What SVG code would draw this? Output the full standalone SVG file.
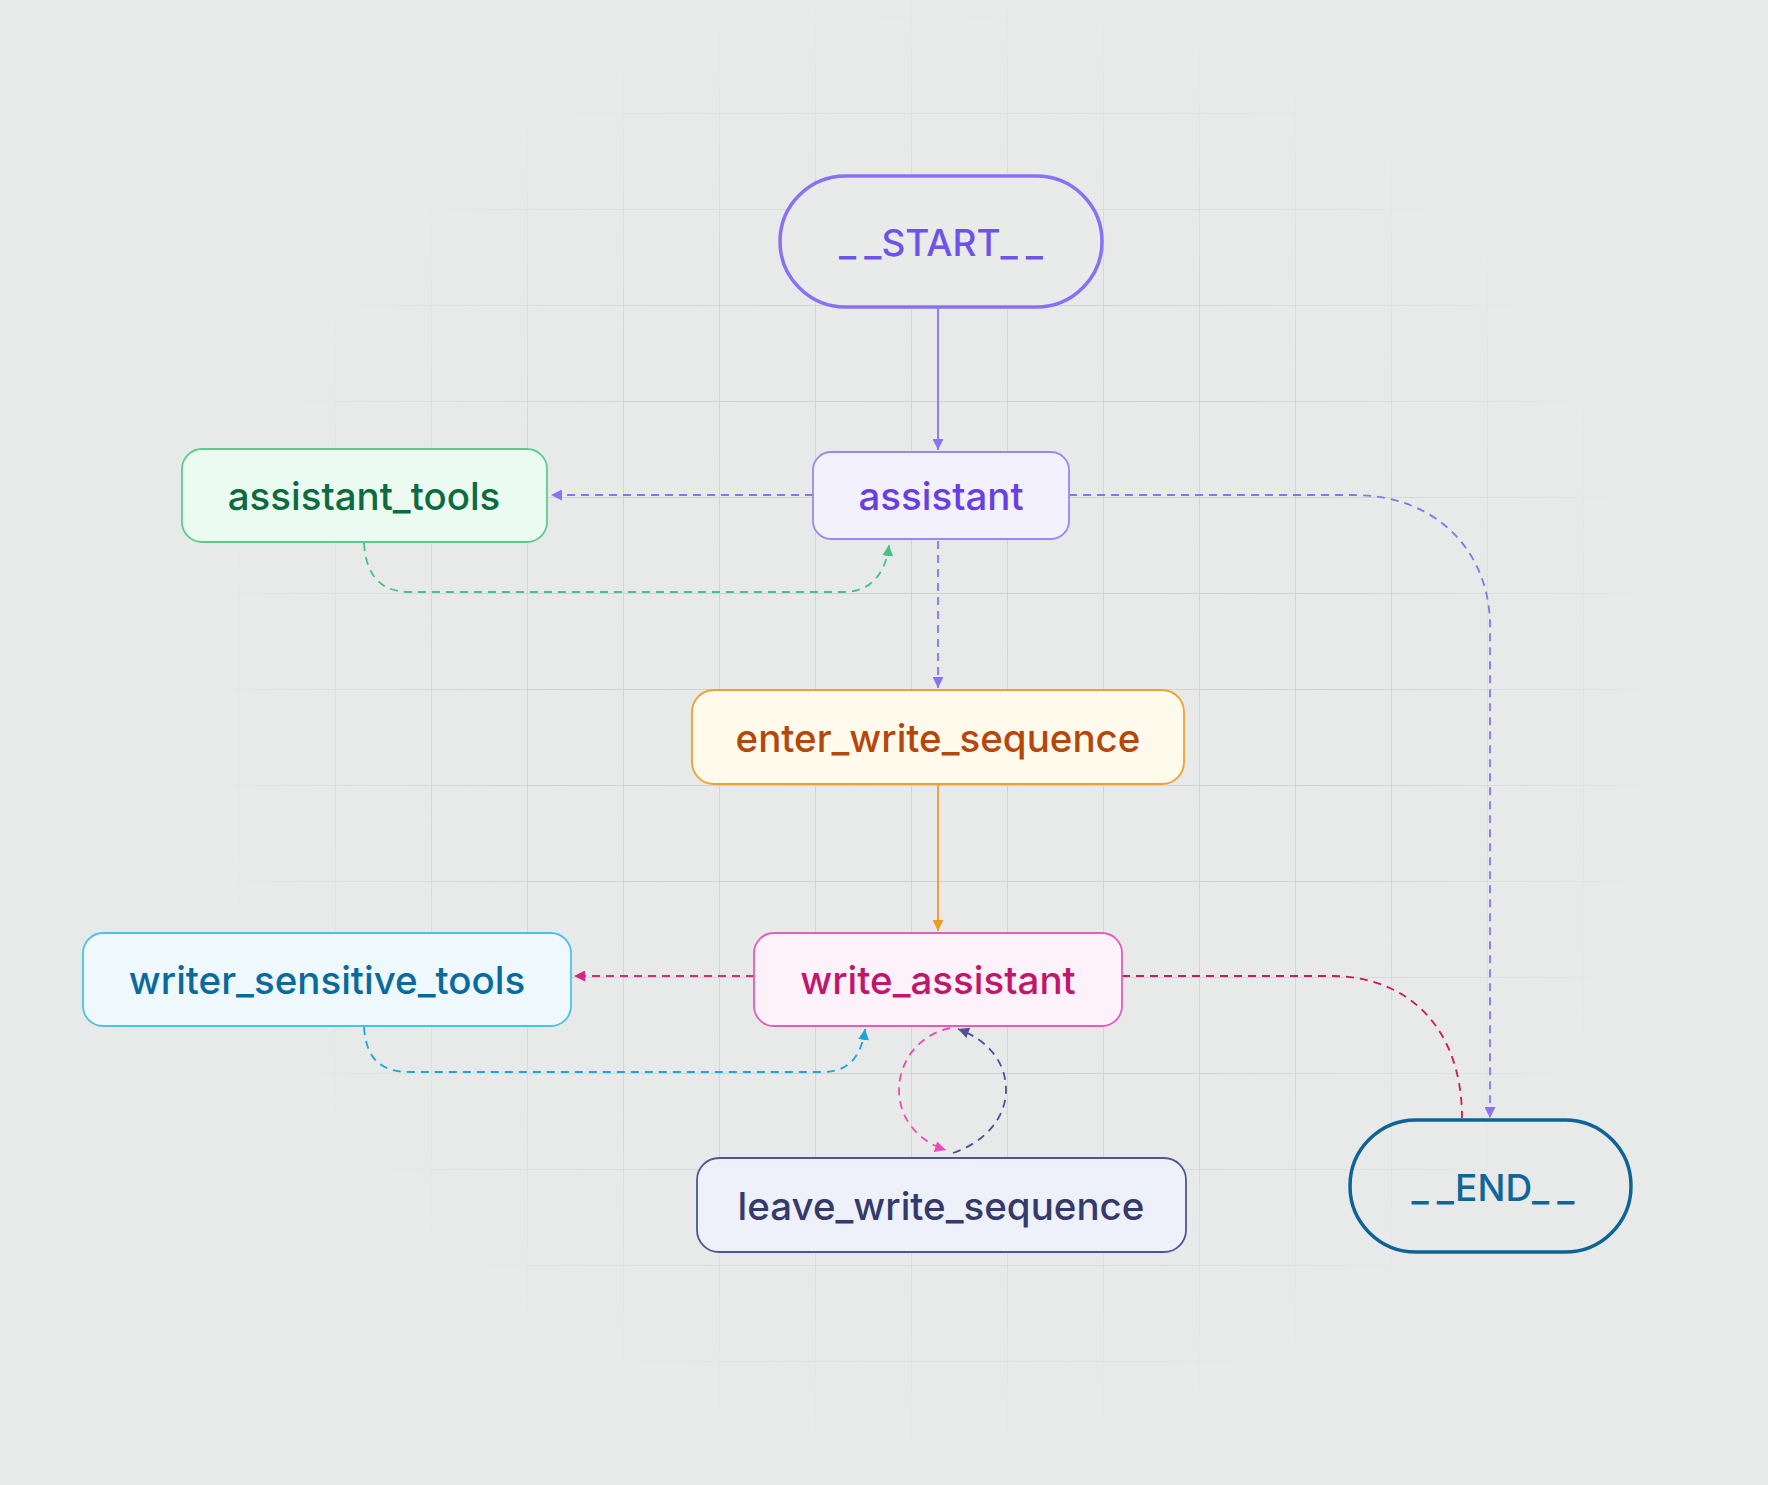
<svg xmlns="http://www.w3.org/2000/svg" width="1768" height="1485" viewBox="0 0 1768 1485">
<defs>
<style>
.lbl{font-family:Inter,"Noto Sans","Liberation Sans",sans-serif;font-size:38.5px;font-weight:500;text-anchor:middle;dominant-baseline:central}
.term{font-family:Inter,"Noto Sans","Liberation Sans",sans-serif;font-size:37px;font-weight:500;text-anchor:middle;dominant-baseline:central}
.us{letter-spacing:8px}
.e{fill:none;stroke-width:1.8}
.d{stroke-dasharray:8 6}
</style>
<pattern id="grid" x="47" y="17" width="96" height="96" patternUnits="userSpaceOnUse">
<path d="M0 0 V96 M0 0 H96" stroke="#c6cdcb" stroke-width="1.5" fill="none"/>
</pattern>
<radialGradient id="fade" cx="936" cy="720" r="730" gradientUnits="userSpaceOnUse">
<stop offset="0" stop-color="#fff" stop-opacity="1"/>
<stop offset="0.65" stop-color="#fff" stop-opacity="0.85"/>
<stop offset="1" stop-color="#fff" stop-opacity="0"/>
</radialGradient>
<mask id="m"><rect width="1768" height="1485" fill="url(#fade)"/></mask>
<marker id="aP" viewBox="0 0 10 10" refX="10" refY="5" markerWidth="11" markerHeight="11" markerUnits="userSpaceOnUse" orient="auto"><path d="M0 0 L10 5 L0 10 z" fill="#8a72f3"/></marker>
<marker id="aG" viewBox="0 0 10 10" refX="10" refY="5" markerWidth="11" markerHeight="11" markerUnits="userSpaceOnUse" orient="auto"><path d="M0 0 L10 5 L0 10 z" fill="#45c47f"/></marker>
<marker id="aO" viewBox="0 0 10 10" refX="10" refY="5" markerWidth="11" markerHeight="11" markerUnits="userSpaceOnUse" orient="auto"><path d="M0 0 L10 5 L0 10 z" fill="#f09a24"/></marker>
<marker id="aM" viewBox="0 0 10 10" refX="10" refY="5" markerWidth="11" markerHeight="11" markerUnits="userSpaceOnUse" orient="auto"><path d="M0 0 L10 5 L0 10 z" fill="#d8287e"/></marker>
<marker id="aB" viewBox="0 0 10 10" refX="10" refY="5" markerWidth="11" markerHeight="11" markerUnits="userSpaceOnUse" orient="auto"><path d="M0 0 L10 5 L0 10 z" fill="#1fa3dc"/></marker>
<marker id="aK" viewBox="0 0 10 10" refX="10" refY="5" markerWidth="11" markerHeight="11" markerUnits="userSpaceOnUse" orient="auto"><path d="M0 0 L10 5 L0 10 z" fill="#ea4bba"/></marker>
<marker id="aI" viewBox="0 0 10 10" refX="10" refY="5" markerWidth="11" markerHeight="11" markerUnits="userSpaceOnUse" orient="auto"><path d="M0 0 L10 5 L0 10 z" fill="#4d5196"/></marker>
</defs>
<rect width="1768" height="1485" fill="#e8eae9"/>
<rect width="1768" height="1485" fill="url(#grid)" mask="url(#m)"/>

<g id="connectors">
<path class="e" stroke="#8a72f3" d="M938 307 V450" marker-end="url(#aP)"/>
<path class="e d" stroke="#8a72f3" d="M813 495 H551" marker-end="url(#aP)"/>
<path class="e d" stroke="#45c47f" d="M364 543 C366 575 380 592 410 592 H843 C872 592 886 572 889 545" marker-end="url(#aG)"/>
<path class="e d" stroke="#8a72f3" d="M938 541 V688" marker-end="url(#aP)"/>
<path class="e d" stroke="#8a72f3" d="M1069 495 H1353 C1440 495 1490 555 1490 626 V1118" marker-end="url(#aP)"/>
<path class="e" stroke="#f09a24" d="M938 784 V931" marker-end="url(#aO)"/>
<path class="e d" stroke="#d8287e" d="M754 976 H574" marker-end="url(#aM)"/>
<path class="e d" stroke="#1fa3dc" d="M364 1027 C366 1058 380 1072 410 1072 H823 C852 1072 862 1052 865 1029" marker-end="url(#aB)"/>
<path class="e d" stroke="#c8185f" d="M1122 976 H1331 C1410 976 1462 1030 1462 1118"/>
<path class="e d" stroke="#ea4bba" d="M950 1028 C915 1036 899 1065 899 1090 C899 1120 920 1142 946 1150" marker-end="url(#aK)"/>
<path class="e d" stroke="#4d5196" d="M953 1153 C985 1142 1006 1118 1006 1090 C1006 1062 988 1040 958 1029" marker-end="url(#aI)"/>
</g>

<g id="node-start">
<rect x="780" y="176" width="322" height="131" rx="65.5" fill="#e9ebea" stroke="#8a70f5" stroke-width="3.5"/>
<text class="term" x="941" y="242" fill="#6e52ea"><tspan class="us">_</tspan>_START<tspan class="us">_</tspan>_</text>
</g>
<g id="node-assistant">
<rect x="813" y="452" width="256" height="87" rx="18" fill="#f3f1fd" stroke="#9a87f5" stroke-width="1.8"/>
<text class="lbl" x="941" y="496" fill="#6a3fe0">assistant</text>
</g>
<g id="node-assistant_tools">
<rect x="182" y="449" width="365" height="93" rx="20" fill="#ebfbf2" stroke="#5ccc8e" stroke-width="1.8"/>
<text class="lbl" x="364" y="496" fill="#0d6b3f">assistant_tools</text>
</g>
<g id="node-enter_write_sequence">
<rect x="692" y="690" width="492" height="94" rx="22" fill="#fffaec" stroke="#f0a030" stroke-width="1.8"/>
<text class="lbl" x="938" y="738" fill="#b5470a">enter_write_sequence</text>
</g>
<g id="node-write_assistant">
<rect x="754" y="933" width="368" height="93" rx="20" fill="#fdf1fa" stroke="#e45cbf" stroke-width="1.8"/>
<text class="lbl" x="938" y="980" fill="#c0166e">write_assistant</text>
</g>
<g id="node-writer_sensitive_tools">
<rect x="83" y="933" width="488" height="93" rx="20" fill="#eef8fd" stroke="#4cc0ec" stroke-width="1.8"/>
<text class="lbl" x="327" y="980" fill="#0a6a9e">writer_sensitive_tools</text>
</g>
<g id="node-leave_write_sequence">
<rect x="697" y="1158" width="489" height="94" rx="22" fill="#eef1fa" stroke="#4f5696" stroke-width="1.8"/>
<text class="lbl" x="941" y="1206" fill="#353a6b">leave_write_sequence</text>
</g>
<g id="node-end">
<rect x="1350" y="1120" width="281" height="132" rx="66" fill="none" stroke="#0e6396" stroke-width="3.5"/>
<text class="term" x="1493" y="1187" fill="#0f6699"><tspan class="us">_</tspan>_END<tspan class="us">_</tspan>_</text>
</g>
</svg>
